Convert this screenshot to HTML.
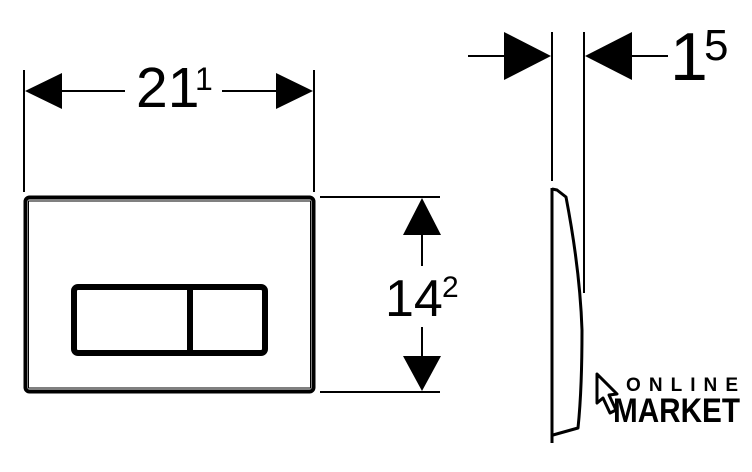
<!DOCTYPE html>
<html><head><style>
html,body{margin:0;padding:0;background:#fff;}
svg{display:block}
text{font-family:"Liberation Sans",sans-serif;fill:#000}
</style></head><body>
<svg width="752" height="472" viewBox="0 0 752 472" xmlns="http://www.w3.org/2000/svg">
<g stroke="#000" stroke-width="2" fill="none">
<line x1="24" y1="70" x2="24" y2="192"/>
<line x1="314" y1="70" x2="314" y2="192"/>
<line x1="60" y1="91" x2="125" y2="91"/>
<line x1="222" y1="91" x2="278" y2="91"/>
</g>
<polygon points="25,91 62,73 62,109" fill="#000"/>
<polygon points="313,91 276,73 276,109" fill="#000"/>
<text x="136" y="107" font-size="57">21</text>
<text x="195" y="90" font-size="32">1</text>
<rect x="25.5" y="197.5" width="288" height="194" rx="4" fill="none" stroke="#000" stroke-width="4"/>
<rect x="28.5" y="201" width="282" height="187" fill="none" stroke="#000" stroke-width="1"/>
<rect x="74" y="287" width="191" height="66" rx="4" fill="none" stroke="#000" stroke-width="6"/>
<line x1="190" y1="287" x2="190" y2="353" stroke="#000" stroke-width="6"/>
<g stroke="#000" stroke-width="2" fill="none">
<line x1="320" y1="197" x2="440" y2="197"/>
<line x1="320" y1="392" x2="440" y2="392"/>
<line x1="422" y1="233" x2="422" y2="266"/>
<line x1="422" y1="327" x2="422" y2="358"/>
</g>
<polygon points="422,198 403,235 441,235" fill="#000"/>
<polygon points="422,391 403,356 441,356" fill="#000"/>
<text x="385" y="316" font-size="52">14</text>
<text x="442" y="297" font-size="30">2</text>
<g stroke="#000" stroke-width="2" fill="none">
<line x1="552" y1="32" x2="552" y2="181"/>
<line x1="584" y1="32" x2="584" y2="293"/>
<line x1="468" y1="56" x2="506" y2="56"/>
<line x1="630" y1="56" x2="668" y2="56"/>
</g>
<polygon points="551,56 504,32 504,80" fill="#000"/>
<polygon points="585,56 632,32 632,80" fill="#000"/>
<text x="670" y="80" font-size="68">1</text>
<text x="704" y="60" font-size="44">5</text>
<path d="M552,189 L557,190 L566,197 Q580,270 582,330 Q582,390 578,428 L553,435" fill="none" stroke="#000" stroke-width="3" stroke-linejoin="round"/>
<line x1="552" y1="188" x2="552" y2="443" stroke="#000" stroke-width="3"/>
<path d="M597,374 L617,394 L609,395 L616,410 L610,413 L603,398 L597,403 Z" fill="#fff" stroke="#000" stroke-width="3" stroke-linejoin="round"/>
<text x="626" y="391" font-size="19" font-weight="bold" textLength="112" lengthAdjust="spacing">ONLINE</text>
<text x="613" y="422" font-size="34" font-weight="bold" textLength="127" lengthAdjust="spacingAndGlyphs">MARKET</text>
</svg>
</body></html>
